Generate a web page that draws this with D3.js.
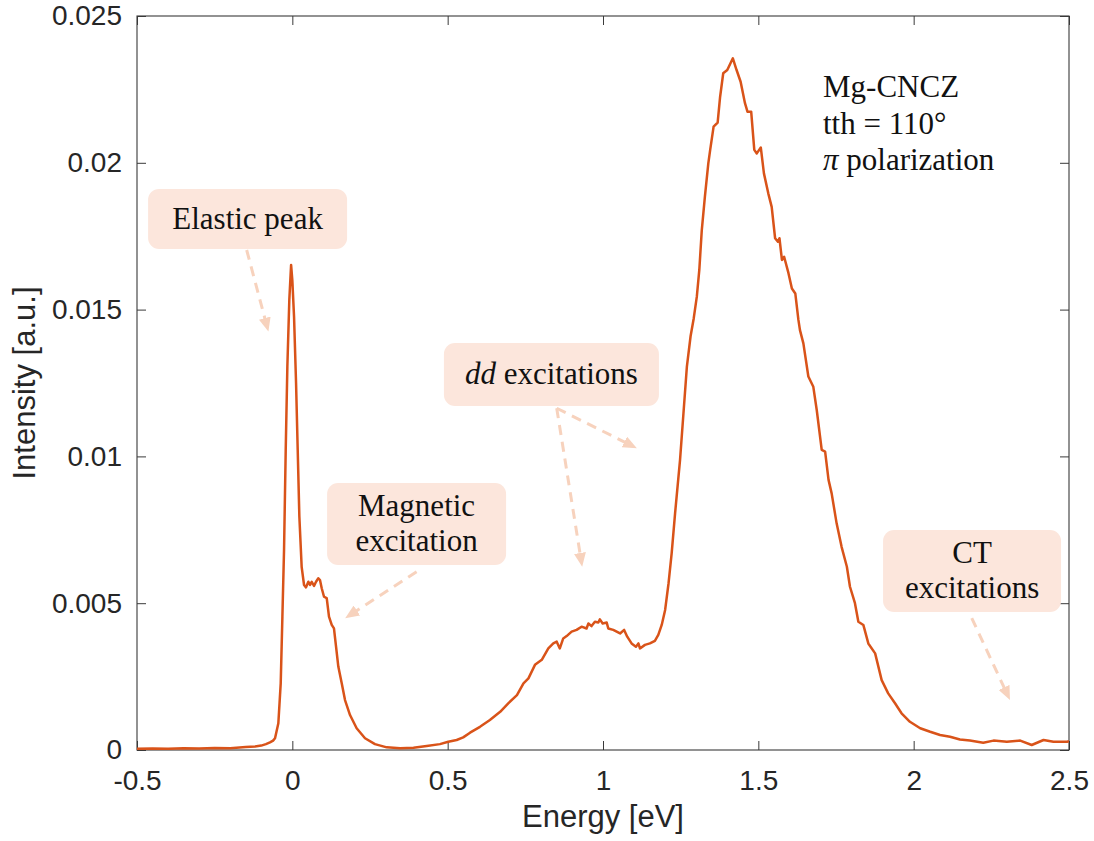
<!DOCTYPE html>
<html>
<head>
<meta charset="utf-8">
<script src="https://cdn.jsdelivr.net/npm/d3@7"></script>
<style>
  html, body { margin: 0; padding: 0; background: #ffffff; }
  svg { display: block; }
</style>
</head>
<body>
<svg id="chart" width="1094" height="841"></svg>
<script>
// ---------------- data ----------------
const energy = [
  -0.5, -0.45, -0.4, -0.35, -0.3, -0.25, -0.2, -0.15, -0.12, -0.1, -0.085, -0.072, -0.062,
  -0.0557, -0.045, -0.0374, -0.032, -0.0267, -0.0213, -0.016, -0.0097, -0.004, 0.0, 0.0055,
  0.012, 0.0173, 0.0226, 0.030, 0.0377, 0.044, 0.0516, 0.057, 0.0624, 0.0698, 0.0763, 0.0837,
  0.089, 0.0946, 0.102, 0.1107, 0.118, 0.1268, 0.134, 0.1407, 0.148, 0.159, 0.1696, 0.1857,
  0.207, 0.234, 0.266, 0.304, 0.347, 0.39, 0.4325, 0.475, 0.502, 0.529, 0.55, 0.572, 0.604,
  0.636, 0.669, 0.695, 0.723, 0.744, 0.76, 0.781, 0.803, 0.824, 0.840, 0.851, 0.861, 0.872,
  0.883, 0.899, 0.915, 0.931, 0.947, 0.953, 0.963, 0.974, 0.985, 0.99, 0.999, 1.012, 1.017,
  1.033, 1.055, 1.068, 1.078, 1.092, 1.106, 1.114, 1.119, 1.135, 1.151, 1.167, 1.178, 1.189,
  1.2, 1.211, 1.221, 1.232, 1.248, 1.259, 1.27, 1.282, 1.292, 1.302, 1.310, 1.318, 1.328,
  1.339, 1.345, 1.356, 1.369, 1.377, 1.387, 1.400, 1.418, 1.430, 1.443, 1.457, 1.465, 1.477,
  1.487, 1.495, 1.508, 1.518, 1.532, 1.543, 1.554, 1.563, 1.568, 1.576, 1.583, 1.597, 1.608,
  1.619, 1.629, 1.634, 1.645, 1.661, 1.677, 1.688, 1.704, 1.715, 1.726, 1.736, 1.752, 1.768,
  1.785, 1.795, 1.811, 1.822, 1.838, 1.854, 1.876, 1.897, 1.918, 1.94, 1.961, 1.988, 2.021,
  2.053, 2.085, 2.117, 2.149, 2.181, 2.224, 2.257, 2.3, 2.343, 2.38, 2.418, 2.45, 2.494, 2.5
];
const intensity = [
  0.00004, 0.00005, 0.00004, 0.00006, 0.00005, 0.00007, 0.00006, 0.0001, 0.00012, 0.00015, 0.0002, 0.00026, 0.00032,
  0.0004, 0.00091, 0.00227, 0.00454, 0.00681, 0.01022, 0.01306, 0.01533, 0.01652, 0.0160, 0.01476,
  0.01249, 0.01022, 0.00795, 0.00624, 0.00562, 0.00554, 0.00573, 0.00562, 0.00573, 0.00559, 0.00573, 0.00585,
  0.00579, 0.00551, 0.00522, 0.00517, 0.00454, 0.00426, 0.00414, 0.00352, 0.00284, 0.00227, 0.0017, 0.00119,
  0.00074, 0.0004, 0.0002, 0.00009, 0.00006, 0.00008, 0.00014, 0.0002, 0.00028, 0.00034, 0.00043, 0.00059, 0.00079,
  0.00102, 0.0013, 0.00159, 0.00187, 0.00227, 0.00244, 0.0029, 0.00307, 0.00346, 0.00363, 0.00369, 0.00346, 0.0038,
  0.00388, 0.00403, 0.00409, 0.0042, 0.00414, 0.00431, 0.00422, 0.00437, 0.00434, 0.00445, 0.00431, 0.00434, 0.00414,
  0.00409, 0.00397, 0.00409, 0.00386, 0.00363, 0.00352, 0.00363, 0.00346, 0.00358, 0.00363, 0.00372, 0.00392, 0.00426,
  0.00477, 0.00568, 0.0067, 0.00806, 0.00988, 0.01147, 0.01306, 0.0141, 0.0147, 0.01544, 0.01635, 0.01771, 0.01885,
  0.01998, 0.02044, 0.02123, 0.02137, 0.02225, 0.02305, 0.02316, 0.02356, 0.02316, 0.02276, 0.02203, 0.02174, 0.02174,
  0.02044, 0.02032, 0.02052, 0.01964, 0.01896, 0.0185, 0.01743, 0.01731, 0.01743, 0.01669, 0.0168, 0.01624, 0.01572,
  0.01555, 0.01465, 0.0143, 0.01385, 0.01272, 0.01237, 0.01158, 0.01022, 0.01016, 0.0092, 0.00874, 0.00772, 0.00692,
  0.00624, 0.00556, 0.005, 0.00437, 0.00426, 0.00363, 0.00329, 0.00238, 0.00193, 0.00159, 0.00125, 0.00096, 0.00074,
  0.00062, 0.00051, 0.00045, 0.00036, 0.00032, 0.00025, 0.00032, 0.00028, 0.00032, 0.00017, 0.00034, 0.00028, 0.00028, 0.0003
];

const xTicks = [-0.5, 0, 0.5, 1, 1.5, 2, 2.5];
const xTickLabels = ["-0.5", "0", "0.5", "1", "1.5", "2", "2.5"];
const yTicks = [0, 0.005, 0.01, 0.015, 0.02, 0.025];
const yTickLabels = ["0", "0.005", "0.01", "0.015", "0.02", "0.025"];

const xLabel = "Energy [eV]";
const yLabel = "Intensity [a.u.]";
const infoLines = ["Mg-CNCZ", "tth = 110°", "π polarization"];

// annotation boxes: label, anchor (box centre) in data units
const annotationNames = ["Elastic peak", "Magnetic excitation", "dd excitations", "CT excitations"];
const annotationCenterE = [-0.144, 0.40, 0.834, 2.188];
const annotationCenterI = [0.01809, 0.00770, 0.01279, 0.00610];
// arrows: start and end in data units
const arrowStartE = [-0.147, 0.40, 0.851, 0.851, 2.187];
const arrowStartI = [0.01703, 0.00607, 0.01164, 0.01164, 0.00449];
const arrowEndE   = [-0.077, 0.17, 1.109, 0.933, 2.31];
const arrowEndI   = [0.01425, 0.00449, 0.01028, 0.00624, 0.0017];

// ---------------- layout ----------------
const svg = d3.select("#chart");
const L = 137, R = 1069, T = 16, B = 750;
const axisColor = "#3a3a3a";
const textColor = "#262626";
const sans = "'Liberation Sans', Arial, Helvetica, sans-serif";
const serif = "'Liberation Serif', 'Times New Roman', Times, serif";

const x = d3.scaleLinear().domain([-0.5, 2.5]).range([L, R]);
const y = d3.scaleLinear().domain([0, 0.025]).range([B, T]);

// axes
const gx = svg.append("g").attr("transform", `translate(0,${B})`)
  .call(d3.axisBottom(x).tickValues(xTicks).tickSize(-9).tickPadding(20)
    .tickFormat((d, i) => xTickLabels[i]));
const gy = svg.append("g").attr("transform", `translate(${L},0)`)
  .call(d3.axisLeft(y).tickValues(yTicks).tickSize(-9).tickPadding(15)
    .tickFormat((d, i) => yTickLabels[i]));
const gxt = svg.append("g").attr("transform", `translate(0,${T})`)
  .call(d3.axisTop(x).tickValues(xTicks).tickSize(-9).tickFormat(""));
const gyr = svg.append("g").attr("transform", `translate(${R},0)`)
  .call(d3.axisRight(y).tickValues(yTicks).tickSize(-9).tickFormat(""));

[gx, gy, gxt, gyr].forEach(g => {
  g.select(".domain").remove();
  g.selectAll(".tick line").attr("stroke", axisColor).attr("stroke-width", 1);
  g.selectAll(".tick text").attr("fill", textColor)
    .style("font-family", sans).style("font-size", "28px");
});

svg.append("rect")
  .attr("x", L).attr("y", T).attr("width", R - L).attr("height", B - T)
  .attr("fill", "none").attr("stroke", axisColor).attr("stroke-width", 1.1);

// axis labels
svg.append("text")
  .attr("x", (L + R) / 2).attr("y", 827)
  .attr("text-anchor", "middle")
  .attr("fill", textColor)
  .style("font-family", sans).style("font-size", "31px")
  .text(xLabel);
svg.append("text")
  .attr("transform", `translate(35,${(T + B) / 2}) rotate(-90)`)
  .attr("text-anchor", "middle")
  .attr("fill", textColor)
  .style("font-family", sans).style("font-size", "31px")
  .text(yLabel);

// clip
svg.append("clipPath").attr("id", "plotclip")
  .append("rect").attr("x", L).attr("y", T).attr("width", R - L).attr("height", B - T);

// spectrum line
const pts = energy.map((e, i) => [e, intensity[i]]);
svg.append("path")
  .datum(pts)
  .attr("clip-path", "url(#plotclip)")
  .attr("fill", "none")
  .attr("stroke", "#D95319")
  .attr("stroke-width", 2.5)
  .attr("stroke-linejoin", "round")
  .attr("d", d3.line().x(d => x(d[0])).y(d => y(d[1])));

// info text
const info = svg.append("text")
  .attr("fill", "#111")
  .style("font-family", serif).style("font-size", "31px");
info.append("tspan").attr("x", 823).attr("y", 97).text(infoLines[0]);
info.append("tspan").attr("x", 823).attr("y", 134).text(infoLines[1]);
const l3 = info.append("tspan").attr("x", 823).attr("y", 170);
l3.append("tspan").style("font-style", "italic").text(infoLines[2].slice(0, 1));
l3.append("tspan").text(infoLines[2].slice(1));

// annotation boxes
const boxFill = "#fce6dc";
const arrowColor = "#f7d2bd";
const boxSizes = [[199, 60], [179, 82], [215, 63], [178, 82]];
const boxLines = [
  [[{t: "Elastic peak"}]],
  [[{t: "Magnetic"}], [{t: "excitation"}]],
  [[{t: "dd", i: true}, {t: " excitations"}]],
  [[{t: "CT"}], [{t: "excitations"}]]
];
annotationNames.forEach((name, k) => {
  const cx = x(annotationCenterE[k]), cy = y(annotationCenterI[k]);
  const [w, h] = boxSizes[k];
  const g = svg.append("g").attr("class", "annot");
  g.append("rect")
    .attr("x", cx - w / 2).attr("y", cy - h / 2)
    .attr("width", w).attr("height", h)
    .attr("rx", 11).attr("ry", 11)
    .attr("fill", boxFill);
  const lines = boxLines[k];
  const lh = 35;
  const firstBase = cy - (lines.length - 1) * lh / 2 + 10;
  lines.forEach((parts, j) => {
    const t = g.append("text")
      .attr("x", cx).attr("y", firstBase + j * lh)
      .attr("text-anchor", "middle")
      .attr("fill", "#111")
      .style("font-family", serif).style("font-size", "31px");
    parts.forEach(p => {
      const ts = t.append("tspan").text(p.t);
      if (p.i) ts.style("font-style", "italic");
    });
  });
});

// arrows
const defs = svg.append("defs");
defs.append("marker")
  .attr("id", "ahead")
  .attr("markerUnits", "userSpaceOnUse")
  .attr("viewBox", "0 0 14 12")
  .attr("refX", 14).attr("refY", 6)
  .attr("markerWidth", 14).attr("markerHeight", 12)
  .attr("orient", "auto")
  .append("path").attr("d", "M0,0 L14,6 L0,12 Z").attr("fill", arrowColor);

arrowStartE.forEach((e, k) => {
  const x1 = x(e), y1 = y(arrowStartI[k]);
  const x2 = x(arrowEndE[k]), y2 = y(arrowEndI[k]);
  const len = Math.hypot(x2 - x1, y2 - y1);
  const ux = (x2 - x1) / len, uy = (y2 - y1) / len;
  svg.append("line")
    .attr("x1", x1).attr("y1", y1)
    .attr("x2", x2 - ux * 12).attr("y2", y2 - uy * 12)
    .attr("stroke", arrowColor).attr("stroke-width", 3)
    .attr("stroke-dasharray", "10,7");
  svg.append("line")
    .attr("x1", x2 - ux * 14).attr("y1", y2 - uy * 14)
    .attr("x2", x2).attr("y2", y2)
    .attr("stroke", "none")
    .attr("marker-end", "url(#ahead)");
});
</script>
</body>
</html>
